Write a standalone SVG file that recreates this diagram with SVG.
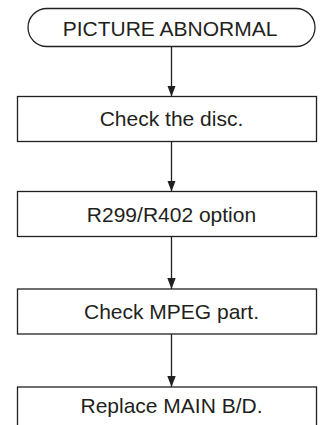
<svg xmlns="http://www.w3.org/2000/svg" width="321" height="425" viewBox="0 0 321 425">
<style>
.n{fill:#fff;stroke:#231f20;stroke-width:1.3}
.t{font-family:"Liberation Sans",Arial,sans-serif;font-size:21px;fill:#231f20;text-anchor:middle}
.c{stroke:#231f20;stroke-width:1.3;fill:none;marker-end:url(#ah)}
</style>
<defs>
<marker id="ah" markerUnits="userSpaceOnUse" markerWidth="11" markerHeight="10" viewBox="0 0 11 10" refX="11" refY="5" orient="auto">
<path d="M0,0.8 L11,5 L0,9.2 Z" fill="#231f20"/>
</marker>
</defs>
<rect width="321" height="425" fill="#fff"/>
<g id="connectors">
<line class="c" x1="171.5" y1="46.5" x2="171.5" y2="96.5"/>
<line class="c" x1="171.5" y1="141.5" x2="171.5" y2="191.5"/>
<line class="c" x1="171.5" y1="236.5" x2="171.5" y2="289"/>
<line class="c" x1="171.5" y1="334" x2="171.5" y2="387"/>
</g>
<g id="start">
<rect class="n" x="28" y="8.5" width="287" height="38" rx="19" ry="19"/>
<text class="t" x="170" y="35.5">PICTURE ABNORMAL</text>
</g>
<g id="disc">
<rect class="n" x="17.5" y="96.5" width="299" height="45"/>
<text class="t" x="171.5" y="126">Check the disc.</text>
</g>
<g id="option">
<rect class="n" x="17.5" y="191.5" width="299" height="45"/>
<text class="t" x="171.5" y="221.5">R299/R402 option</text>
</g>
<g id="mpeg">
<rect class="n" x="17.5" y="289" width="299" height="45"/>
<text class="t" x="171.5" y="318.5">Check MPEG part.</text>
</g>
<g id="replace">
<rect class="n" x="17.5" y="387" width="299" height="45"/>
<text class="t" x="171.5" y="413">Replace MAIN B/D.</text>
</g>
</svg>
